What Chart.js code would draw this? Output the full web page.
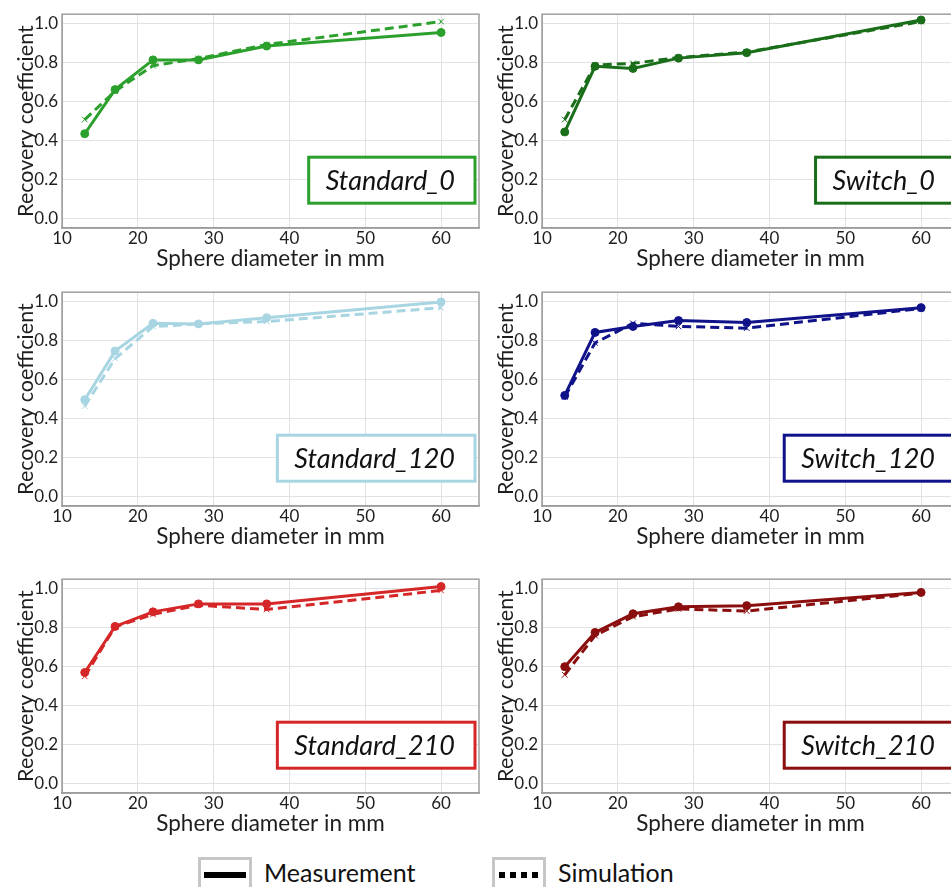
<!DOCTYPE html>
<html>
<head>
<meta charset="utf-8">
<script src="https://cdn.jsdelivr.net/npm/chart.js@4/dist/chart.umd.min.js"></script>
<style>
  html, body { margin: 0; padding: 0; background: #fff; overflow: hidden; }
  body { width: 951px; height: 887px; position: relative; font-family: Lato, "Open Sans", sans-serif; }
  canvas.panel { position: absolute; }
  .legend-item { position: absolute; top: 857px; display: flex; align-items: flex-start; }
  .legend-box { width: 48px; height: 36px; border: 3px solid #c6c6c6; border-bottom: none; position: relative; box-sizing: content-box; }
  .legend-box .solid { position: absolute; left: 3px; right: 3px; top: 12px; height: 6px; background: #000; }
  .legend-box .dotted { position: absolute; left: 4px; right: 2px; top: 12px; height: 6px;
    background: repeating-linear-gradient(to right, #000 0 6px, transparent 6px 11px); }
  .legend-text { font-size: 25px; color: #111; margin-left: 12px; line-height: 30px; margin-top: 0px; }
</style>
</head>
<body>
<canvas id="p0" class="panel" width="484" height="275" style="left:0px;top:0px"></canvas>
<canvas id="p1" class="panel" width="484" height="275" style="left:480px;top:0px"></canvas>
<canvas id="p2" class="panel" width="484" height="275" style="left:0px;top:278px"></canvas>
<canvas id="p3" class="panel" width="484" height="275" style="left:480px;top:278px"></canvas>
<canvas id="p4" class="panel" width="484" height="275" style="left:0px;top:565px"></canvas>
<canvas id="p5" class="panel" width="484" height="275" style="left:480px;top:565px"></canvas>

<div class="legend-item" style="left:198px"><div class="legend-box"><div class="solid"></div></div><div class="legend-text">Measurement</div></div>
<div class="legend-item" style="left:492px"><div class="legend-box"><div class="dotted"></div></div><div class="legend-text">Simulation</div></div>

<script>
// Sphere diameters (mm) shared by every panel
const diameters = [13, 17, 22, 28, 37, 60];

// Axis tick values
const xTicks = [10, 20, 30, 40, 50, 60];
const yTicks = [0.0, 0.2, 0.4, 0.6, 0.8, 1.0];

// Panel names and colours
const panelNames = ['Standard_0', 'Switch_0', 'Standard_120', 'Switch_120', 'Standard_210', 'Switch_210'];
const panelColors = ['#2ca02c', '#1a6e1a', '#a8d5e2', '#10128a', '#d62728', '#8b0e0e'];

// Recovery coefficients: measurement
const measStandard0   = [0.435, 0.662, 0.815, 0.815, 0.886, 0.956];
const measSwitch0     = [0.444, 0.782, 0.771, 0.824, 0.852, 1.020];
const measStandard120 = [0.497, 0.747, 0.890, 0.887, 0.919, 1.000];
const measSwitch120   = [0.519, 0.843, 0.874, 0.904, 0.894, 0.970];
const measStandard210 = [0.570, 0.807, 0.882, 0.923, 0.923, 1.012];
const measSwitch210   = [0.600, 0.776, 0.872, 0.908, 0.914, 0.982];

// Recovery coefficients: simulation
const simStandard0    = [0.508, 0.654, 0.785, 0.822, 0.894, 1.012];
const simSwitch0      = [0.508, 0.788, 0.797, 0.827, 0.855, 1.012];
const simStandard120  = [0.464, 0.708, 0.873, 0.887, 0.899, 0.970];
const simSwitch120    = [0.511, 0.789, 0.890, 0.874, 0.865, 0.966];
const simStandard210  = [0.550, 0.805, 0.869, 0.916, 0.894, 0.992];
const simSwitch210    = [0.558, 0.760, 0.857, 0.897, 0.886, 0.978];

const measurement = [measStandard0, measSwitch0, measStandard120, measSwitch120, measStandard210, measSwitch210];
const simulation  = [simStandard0, simSwitch0, simStandard120, simSwitch120, simStandard210, simSwitch210];

const FONT = 'Lato, "Open Sans", sans-serif';
const TEXT = '#1e1e1e';

function points(values) {
  return diameters.map((d, i) => ({ x: d, y: values[i] }));
}

// Grey frame around the plotting area
const framePlugin = {
  id: 'frame',
  beforeDatasetsDraw(chart) {
    const { ctx, chartArea: a } = chart;
    ctx.save();
    ctx.strokeStyle = '#a0a0a0';
    ctx.lineWidth = 1.5;
    ctx.strokeRect(a.left, a.top, a.right - a.left, a.bottom - a.top);
    ctx.restore();
  }
};

// Boxed panel name in the lower right of the plot
const namePlugin = {
  id: 'panelName',
  afterDraw(chart, args, opts) {
    const { ctx, chartArea: a } = chart;
    ctx.save();
    ctx.font = 'italic 27px ' + FONT;
    const w = ctx.measureText(opts.text).width;
    const right = a.right - 4;
    const boxW = w + 37;
    const top = a.top + 143;
    const h = 46;
    ctx.fillStyle = '#fff';
    ctx.fillRect(right - boxW, top, boxW, h);
    ctx.strokeStyle = opts.color;
    ctx.lineWidth = 3;
    ctx.strokeRect(right - boxW, top, boxW, h);
    ctx.fillStyle = '#111';
    ctx.textBaseline = 'middle';
    ctx.textAlign = 'left';
    ctx.fillText(opts.text, right - boxW + 17, top + h / 2 + 1);
    ctx.restore();
  }
};

panelNames.forEach((name, i) => {
  const color = panelColors[i];
  new Chart(document.getElementById('p' + i), {
    type: 'line',
    data: {
      datasets: [
        {
          label: 'Measurement',
          data: points(measurement[i]),
          borderColor: color,
          backgroundColor: color,
          borderWidth: 3,
          pointStyle: 'circle',
          pointRadius: 4,
          pointBorderWidth: 1,
          tension: 0
        },
        {
          label: 'Simulation',
          data: points(simulation[i]),
          borderColor: color,
          backgroundColor: color,
          borderWidth: 3,
          borderDash: [9, 5],
          pointStyle: 'crossRot',
          pointRadius: 4,
          pointBorderWidth: 1,
          tension: 0
        }
      ]
    },
    options: {
      responsive: false,
      animation: false,
      devicePixelRatio: 1,
      layout: { padding: { top: 11, right: 1, left: 0, bottom: 0 } },
      plugins: {
        legend: { display: false },
        tooltip: { enabled: false },
        panelName: { text: name, color: color }
      },
      scales: {
        x: {
          type: 'linear',
          min: 10,
          max: 65,
          afterBuildTicks: s => { s.ticks = xTicks.map(v => ({ value: v })); },
          afterFit: s => { s.height = 47; },
          ticks: {
            autoSkip: false, maxRotation: 0, padding: 0,
            color: TEXT, font: { family: FONT, size: 17 },
            callback: v => String(v)
          },
          grid: { color: '#e2e2e2', lineWidth: 1, drawTicks: false },
          border: { color: '#8a8a8a', width: 1.5 },
          title: {
            display: true, text: 'Sphere diameter in mm', color: TEXT,
            font: { family: FONT, size: 22.5 }, padding: { top: 0, bottom: 3 }
          }
        },
        y: {
          type: 'linear',
          min: -0.05,
          max: 1.05,
          afterBuildTicks: s => { s.ticks = yTicks.map(v => ({ value: v })); },
          afterFit: s => { s.width = 62; },
          ticks: {
            padding: 4, color: TEXT, font: { family: FONT, size: 17 },
            callback: v => Number(v).toFixed(1)
          },
          grid: { color: '#e2e2e2', lineWidth: 1, drawTicks: false },
          border: { color: '#a0a0a0', width: 1 },
          title: {
            display: true, text: 'Recovery coefficient', color: TEXT,
            font: { family: FONT, size: 21.5 }, padding: { top: 13, bottom: 0 }
          }
        }
      }
    },
    plugins: [framePlugin, namePlugin]
  });
});
</script>
</body>
</html>
